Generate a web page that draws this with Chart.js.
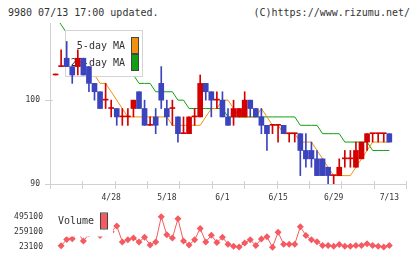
<!DOCTYPE html>
<html>
<head>
<meta charset="utf-8">
<script src="https://cdn.jsdelivr.net/npm/chart.js@4/dist/chart.umd.min.js"></script>
<style>
  body { margin: 0; background: #fff; width: 420px; height: 259px; overflow: hidden; position: relative; }
  .cap { position: absolute; top: 6px; font: 10px "DejaVu Sans Mono", monospace; line-height: 14px; color: #333; white-space: pre; }
  canvas { position: absolute; left: 0; }
</style>
</head>
<body>
<div class="cap" style="left:8px">9980 07/13 17:00 updated.</div>
<div class="cap" style="right:10px">(C)https://www.rizumu.net/</div>
<canvas id="canvas1" width="420" height="205" style="top:0"></canvas>
<canvas id="canvas2" width="420" height="54" style="top:205px"></canvas>
<script>
// ---------------- data (one entry per trading day, 4/14 .. 7/13) ----------------
const dateLabels = ["4/28", "5/18", "6/1", "6/15", "6/29", "7/13"];
const dateIdx = [10, 20, 30, 40, 50, 60];
const priceTicks = [90, 100];
const volTicks = [23100, 259100, 495100];

const opens = [103,104,105,104,104,105,104,102,101,100, 99,99,98,98,99,101,99,97,98,102,
  99,99,98,96,96,98,98,102,101,100, 100,98,98,98,98,100,99,98,97,97,
  97,97,96,96,96,94,94,93,93,92, 91,91,93,93,92,93,95,96,96,96, 96];
const highs = [103,106,107,104,106,105,104,102,101,102, 100,99,99,99,100,101,100,98,99,104,
  100,100,98,98,98,99,103,102,101,101, 101,99,100,99,101,100,99,99,97,97,
  97,97,96,96,96,96,95,94,93,92, 91,93,94,94,95,95,96,96,96,96, 96];
const lows = [103,104,104,102,103,103,101,100,99,99, 98,97,97,97,98,99,97,97,96,99,
  97,97,95,96,96,97,98,100,98,99, 98,97,97,98,98,98,98,96,94,96,
  95,96,95,95,91,92,92,91,91,90, 90,91,92,92,92,93,94,95,95,95, 95];
const closes = [103,104,104,103,105,103,102,101,99,100, 99,98,98,98,100,99,97,97,97,100,
  98,99,96,96,98,98,102,101,100,100, 98,97,99,99,100,99,98,97,96,97,
  97,96,96,96,94,93,93,91,91,91, 91,92,93,93,94,95,96,96,96,96, 95];
const ma5 = [null,null,null,null,104,104,103,103,102,102, 101,100,99,98,98,98,98,98,98,98,
  98,97,97,97,97,97,97,98,99,99, 100,100,99,98,98,98,98,99,98,97,
  97,96,96,96,95,95,95,94,93,92, 91,91,91,91,92,93,94,95,95,95, 95];
const ma25 = [110,109,108,107,107,106,106,105,105,104, 104,103,103,103,103,102,102,102,101,101,
  101,101,100,100,99,99,99,99,99,99, 99,98,98,98,98,98,98,98,98,98,
  98,98,98,98,97,97,97,97,96,96, 96,96,95,95,95,95,95,94,94,94, 94];
const volumes = [null,46700,141100,152900,259100,117500,230000,265000,205000,240000,
  264000,353500,105700,137500,164700,105700,176500,58500,105700,495100,
  215900,164700,463000,117500,58500,137500,314200,105700,208000,97400,
  176500,70300,38500,26800,90000,137500,50200,149000,184600,23100,
  255600,70300,70300,70300,341700,203600,137500,109200,50200,50200,
  38500,66800,38500,38500,50200,50200,78600,50200,38500,26800,
  50200];

const xMin = -1, xMax = 63;
const UP = "#d40000", DOWN = "#3c44bd";

Chart.defaults.font.family = '"DejaVu Sans Mono", monospace';
Chart.defaults.font.size = 8;
Chart.defaults.color = "#333";

const days = closes.map((c, i) => i);
const candleColors = days.map(i => closes[i] >= opens[i] ? UP : DOWN);

// legend box of the moving averages, drawn between the lines and the candles
function drawMaLegend(chart) {
  const ctx = chart.ctx;
  const lines = chart.data.datasets.filter(d => d.type === "line");
  ctx.save();
  ctx.fillStyle = "#fff";
  ctx.fillRect(65, 30, 78, 47);
  ctx.strokeStyle = "#d4d4d4";
  ctx.lineWidth = 1;
  ctx.strokeRect(65.5, 30.5, 77, 46);
  ctx.font = '10px "DejaVu Sans Mono"';
  ctx.textAlign = "right";
  ctx.textBaseline = "middle";
  lines.forEach((d, k) => {
    const cy = 46 + k * 17;
    ctx.fillStyle = "#333";
    ctx.fillText(d.label, 125, cy);
    ctx.fillStyle = d.borderColor;
    ctx.fillRect(132, cy - 8, 6, 15);
    ctx.strokeStyle = "#444";
    ctx.strokeRect(131.5, cy - 8.5, 7, 16);
  });
  ctx.restore();
}

const mainDecor = {
  id: "mainDecor",
  beforeDatasetsDraw(chart) { chart.$legendDone = false; },
  beforeDatasetDraw(chart, args) {
    if (chart.$legendDone || args.meta.type !== "bar") return;
    chart.$legendDone = true;
    drawMaLegend(chart);
  },
  afterDraw(chart) {
    const { ctx, chartArea: a } = chart;
    const x = chart.scales.x, y = chart.scales.y;
    ctx.save();
    ctx.strokeStyle = "#d0d0d0";
    ctx.lineWidth = 1;
    ctx.beginPath();
    for (let k = 0; k <= 11; k++) {
      const px = Math.round(x.getPixelForValue(xMin + k * (xMax - xMin) / 11)) + 0.5;
      ctx.moveTo(px, a.bottom - 3);
      ctx.lineTo(px, a.bottom + 5);
    }
    priceTicks.forEach(v => {
      const py = Math.round(y.getPixelForValue(v)) + 0.5;
      ctx.moveTo(a.left - 5, py);
      ctx.lineTo(a.left + 3, py);
    });
    ctx.stroke();
    ctx.restore();
  }
};

chart = new Chart(document.getElementById("canvas1"), {
  type: "bar",
  data: {
    datasets: [
      {
        label: "body",
        data: days.map(i => ({ x: i, y: [opens[i], closes[i]] })),
        backgroundColor: candleColors,
        barThickness: 5,
        minBarLength: 1,
        grouped: false,
        order: 0,
      },
      {
        label: "wick",
        data: days.map(i => ({ x: i, y: [lows[i], highs[i]] })),
        backgroundColor: candleColors,
        barThickness: 1,
        minBarLength: 1,
        grouped: false,
        order: 1,
      },
      {
        type: "line",
        label: "5-day MA",
        data: days.map(i => ({ x: i, y: ma5[i] })),
        borderColor: "#f0900c",
        borderWidth: 1,
        pointRadius: 0,
        order: 2,
      },
      {
        type: "line",
        label: "25-day MA",
        data: days.map(i => ({ x: i, y: ma25[i] })),
        borderColor: "#10a010",
        borderWidth: 1,
        pointRadius: 0,
        order: 2,
      },
    ],
  },
  options: {
    responsive: false,
    animation: false,
    events: [],
    layout: { padding: { left: 0, right: 14, top: 23, bottom: 0 } },
    plugins: { legend: { display: false }, tooltip: { enabled: false } },
    scales: {
      x: {
        type: "linear",
        min: xMin,
        max: xMax,
        offset: false,
        afterBuildTicks: s => { s.ticks = dateIdx.map(v => ({ value: v })); },
        afterFit: s => { s.height = 21; },
        ticks: { autoSkip: false, maxRotation: 0, padding: 9, callback: (v, i) => dateLabels[i] },
        grid: { display: false, drawTicks: false },
        border: { color: "#d0d0d0" },
      },
      y: {
        min: 90,
        max: 109.2,
        afterBuildTicks: s => { s.ticks = priceTicks.map(v => ({ value: v })); },
        afterFit: s => { s.width = 50; },
        ticks: { padding: 10, callback: v => String(v) },
        grid: { display: false, drawTicks: false },
        border: { color: "#d0d0d0" },
      },
    },
  },
  plugins: [mainDecor],
});

//------------------------------------- volume ---------------------------------------------
const volDecor = {
  id: "volDecor",
  afterDatasetsDraw(chart) {
    const ctx = chart.ctx;
    const d = chart.data.datasets[0];
    ctx.save();
    ctx.fillStyle = "#fff";
    ctx.fillRect(55, 7, 58, 24.5);
    ctx.font = '10px "DejaVu Sans Mono"';
    ctx.textAlign = "left";
    ctx.textBaseline = "middle";
    ctx.fillStyle = "#333";
    ctx.fillText(d.label, 58, 16.5);
    ctx.fillStyle = d.borderColor;
    ctx.fillRect(101, 8.5, 6, 15);
    ctx.strokeStyle = "#444";
    ctx.lineWidth = 1;
    ctx.strokeRect(100.5, 8, 7, 16);
    ctx.restore();
  }
};

chart2 = new Chart(document.getElementById("canvas2"), {
  type: "line",
  data: {
    datasets: [
      {
        label: "Volume",
        data: days.map(i => ({ x: i, y: volumes[i] })),
        borderColor: "#f55a60",
        backgroundColor: "#f55a60",
        borderWidth: 1,
        pointStyle: "rectRot",
        pointRadius: 3.5,
        pointBorderWidth: 0,
        spanGaps: false,
        clip: 6,
      },
    ],
  },
  options: {
    responsive: false,
    animation: false,
    events: [],
    layout: { padding: { left: 0, right: 14, top: 3, bottom: 11 } },
    plugins: { legend: { display: false }, tooltip: { enabled: false } },
    scales: {
      x: { type: "linear", min: xMin, max: xMax, display: false },
      y: {
        min: volTicks[0],
        max: volTicks[volTicks.length - 1],
        afterBuildTicks: s => { s.ticks = volTicks.map(v => ({ value: v })); },
        afterFit: s => { s.width = 50; },
        ticks: { padding: 7, callback: v => String(v) },
        grid: { display: false, drawTicks: false },
        border: { display: false },
      },
    },
  },
  plugins: [volDecor],
});
</script>
</body>
</html>
